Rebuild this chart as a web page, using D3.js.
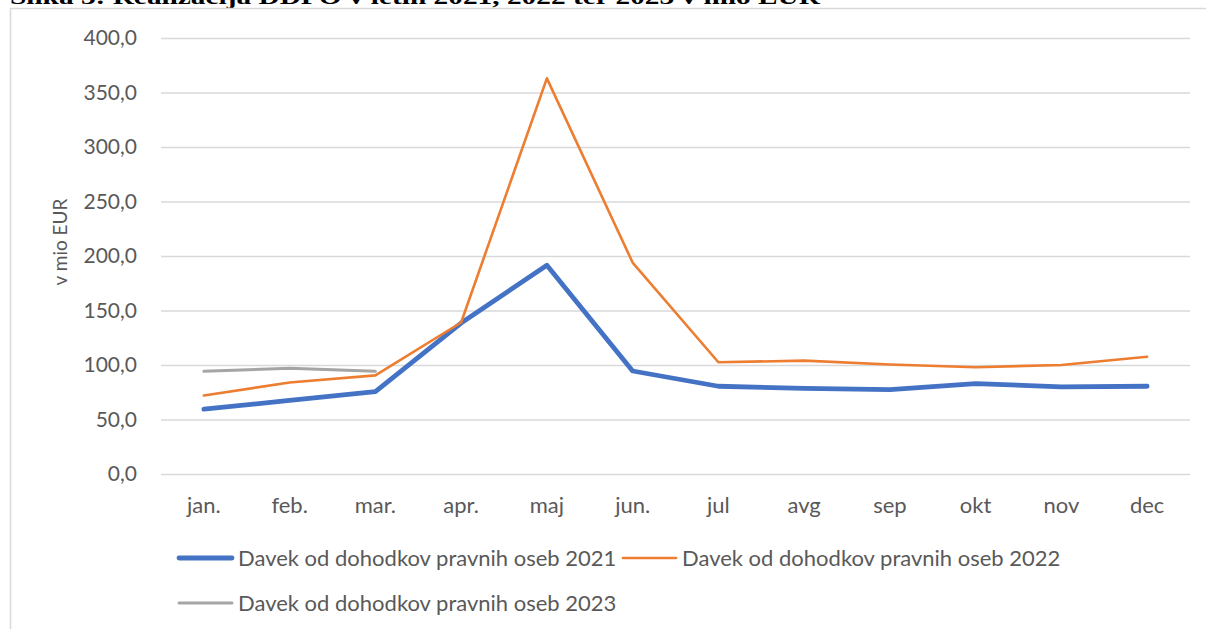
<!DOCTYPE html>
<html><head><meta charset="utf-8">
<script src="https://cdn.jsdelivr.net/npm/d3@7"></script>
<style>html,body{margin:0;padding:0;background:#fff;overflow:hidden}</style>
</head><body>
<svg id="c" width="1206" height="629"></svg>
<script>
const months = ["jan.","feb.","mar.","apr.","maj","jun.","jul","avg","sep","okt","nov","dec"];
const s2021 = [59.5,67.5,75.5,138.5,191.5,94.5,80.5,78.5,77.5,83,80,80.5];
const s2022 = [72,84,90.5,139,363,194,102.5,104,100.5,98,100,107.5];
const s2023 = [94.2,97,94.2];
const yTicks = [0,50,100,150,200,250,300,350,400];
const seriesNames = ["Davek od dohodkov pravnih oseb 2021","Davek od dohodkov pravnih oseb 2022","Davek od dohodkov pravnih oseb 2023"];
const title = "Slika 3: Realizacija DDPO v letih 2021, 2022 ter 2023 v mio EUR";

const svg = d3.select("#c");
const font = "Lato, 'Open Sans', sans-serif";
const txt = "#595959";

// title (cut off at top)
svg.append("text").attr("x",10).attr("y",4).attr("font-family","'Liberation Serif', serif")
  .attr("font-weight","bold").attr("font-size",21).attr("fill","#000").attr("textLength",810)
  .attr("lengthAdjust","spacingAndGlyphs").text(title);

// chart frame
svg.append("rect").attr("x",10.5).attr("y",8.5).attr("width",1220).attr("height",700)
  .attr("fill","none").attr("stroke","#D9D9D9").attr("stroke-width",1.5);

const x = d3.scaleBand().domain(months).range([161,1190]);
const y = d3.scaleLinear().domain([0,400]).range([474,38]);

const g = svg.append("g");
const yAxis = d3.axisLeft(y).tickValues(yTicks).tickSize(-(1190-161)).tickPadding(24)
  .tickFormat(d => d3.format(".1f")(d).replace(".",","));
const ya = g.append("g").attr("transform","translate(161,0)").call(yAxis);
ya.select(".domain").remove();
ya.selectAll(".tick line").attr("stroke","#D9D9D9").attr("stroke-width",1.5);
ya.selectAll(".tick text").attr("font-family",font).attr("font-size",21).attr("fill",txt);

const xAxis = d3.axisBottom(x).tickSize(0).tickPadding(23);
const xa = g.append("g").attr("transform","translate(0,474)").call(xAxis);
xa.select(".domain").remove();
xa.selectAll(".tick text").attr("font-family",font).attr("font-size",22).attr("fill",txt);

svg.append("text").attr("transform","translate(67,242) rotate(-90)").attr("text-anchor","middle")
  .attr("font-family",font).attr("font-size",19).attr("fill",txt).text("v mio EUR");

const line = d3.line().x((d,i)=>x(months[i])+x.bandwidth()/2).y(d=>y(d));
const series = [
  {data:s2021,color:"#4472C4",w:4.8},
  {data:s2022,color:"#ED7D31",w:2.6},
  {data:s2023,color:"#A5A5A5",w:3}
];
series.forEach(s=>{
  g.append("path").datum(s.data).attr("d",line).attr("fill","none")
   .attr("stroke",s.color).attr("stroke-width",s.w).attr("stroke-linejoin","round").attr("stroke-linecap","round");
});

// legend
const leg = [
  {name:seriesNames[0],color:"#4472C4",w:4.8,x:179,y:558},
  {name:seriesNames[1],color:"#ED7D31",w:2.6,x:623,y:558},
  {name:seriesNames[2],color:"#A5A5A5",w:3,x:179,y:603}
];
leg.forEach(l=>{
  svg.append("line").attr("x1",l.x).attr("x2",l.x+53).attr("y1",l.y).attr("y2",l.y)
    .attr("stroke",l.color).attr("stroke-width",l.w).attr("stroke-linecap","round");
  svg.append("text").attr("x",l.x+59).attr("y",l.y).attr("dy","0.35em").attr("font-family",font)
    .attr("font-size",22).attr("fill",txt).text(l.name);
});
</script>
</body></html>
